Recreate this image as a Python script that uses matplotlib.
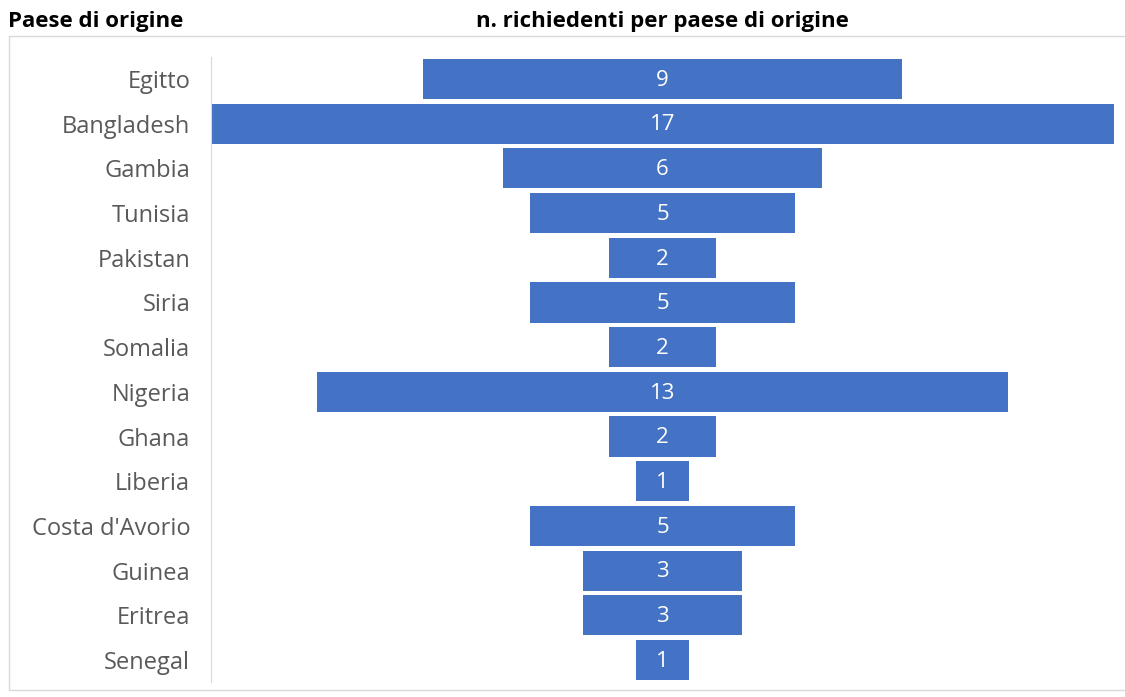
import numpy as np
import matplotlib.pyplot as plt
from matplotlib.patches import Rectangle

paesi = ["Egitto", "Bangladesh", "Gambia", "Tunisia", "Pakistan", "Siria", "Somalia",
         "Nigeria", "Ghana", "Liberia", "Costa d'Avorio", "Guinea", "Eritrea", "Senegal"]
richiedenti = [9, 17, 6, 5, 2, 5, 2, 13, 2, 1, 5, 3, 3, 1]

plt.rcParams['font.family'] = ['Open Sans', 'DejaVu Sans']

fig = plt.figure(figsize=(11.25, 6.97), dpi=100)

# cornice grigia chiara attorno all'area del grafico
fig.patches.append(Rectangle((9 / 1125, 7 / 697), 1.2, 654 / 697, transform=fig.transFigure,
                             fill=False, edgecolor='#d9d9d9', linewidth=1))

ax = fig.add_axes([211 / 1125, 14.6 / 697, 903 / 1125, 625.8 / 697])

y = np.arange(len(paesi))
vals = np.array(richiedenti)
# barre centrate (grafico a imbuto)
ax.barh(y, vals, left=-vals / 2, height=0.9, color='#4472c4')
for yi, v in zip(y, vals):
    ax.text(0, yi + 0.03, str(v), ha='center', va='center', color='white', fontsize=16)

ax.set_xlim(-8.5, 8.5)
ax.set_ylim(len(paesi) - 0.5, -0.5)
ax.set_yticks(y)
ax.set_yticklabels(paesi, fontsize=17, color='#595959')
ax.tick_params(axis='y', length=0, pad=15)
ax.set_xticks([])
for s in ['top', 'right', 'bottom']:
    ax.spines[s].set_visible(False)
ax.spines['left'].set_color('#d9d9d9')

fig.text(8 / 1125, 1 - 22 / 697, "Paese di origine", fontsize=16, fontweight='bold',
         ha='left', va='center', color='black')
fig.text(662 / 1125, 1 - 22 / 697, "n. richiedenti per paese di origine", fontsize=16,
         fontweight='bold', ha='center', va='center', color='black')

fig.savefig('out.png', dpi=100)
